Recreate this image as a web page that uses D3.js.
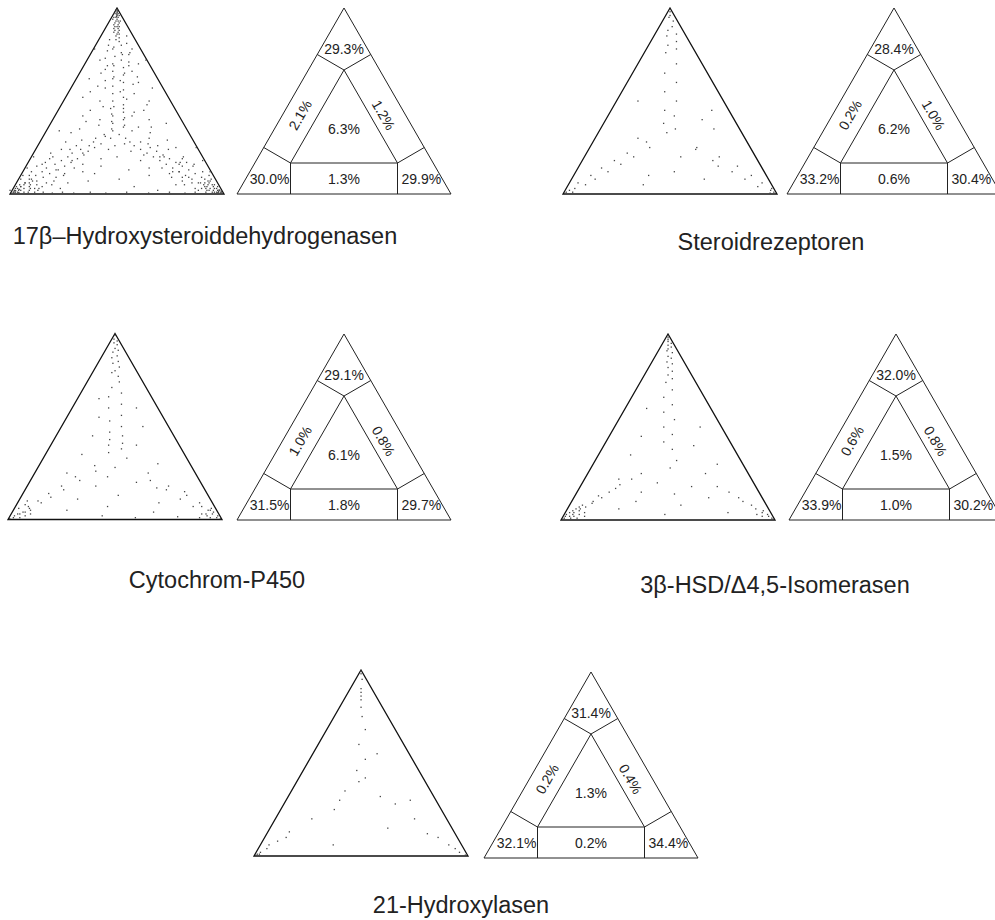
<!DOCTYPE html>
<html>
<head>
<meta charset="utf-8">
<script src="https://cdn.jsdelivr.net/npm/d3@7"></script>
<style>
  html, body { margin: 0; padding: 0; background: #fff; }
  svg { display: block; }
  text { font-family: "Liberation Sans", Arial, sans-serif; fill: #222; }
</style>
</head>
<body>
<svg id="chart" width="995" height="920"></svg>
<script>
// Likelihood mapping of quartets for five protein families.
// Each quartet is a barycentric point [top, left]; right = 1 - top - left.

const titles = [
  "17\u03B2\u2013Hydroxysteroiddehydrogenasen",
  "Steroidrezeptoren",
  "Cytochrom-P450",
  "3\u03B2-HSD/\u03944,5-Isomerasen",
  "21-Hydroxylasen"
];

// Region percentages: [top, bottom-left, bottom-right, left side, right side, bottom, centre]
const regionsHSD17   = [29.3, 30.0, 29.9, 2.1, 1.2, 1.3, 6.3];
const regionsSteroid = [28.4, 33.2, 30.4, 0.2, 1.0, 0.6, 6.2];
const regionsP450    = [29.1, 31.5, 29.7, 1.0, 0.8, 1.8, 6.1];
const regionsHSD3    = [32.0, 33.9, 30.2, 0.6, 0.8, 1.0, 1.5];
const regionsHyd21   = [31.4, 32.1, 34.4, 0.2, 0.4, 0.2, 1.3];

const pointsHSD17 = [
  // apex cluster
  [.99,.005],[.98,.01],[.97,.02],[.97,.01],[.96,.02],[.95,.03],[.95,.02],[.94,.03],[.93,.04],[.93,.03],
  [.92,.05],[.91,.04],[.9,.05],[.9,.06],[.89,.05],[.88,.07],[.87,.06],[.86,.07],[.85,.08],[.84,.07],
  [.83,.09],[.82,.08],[.98,.02],[.96,.01],[.94,.05],[.92,.03],[.91,.06],[.89,.07],[.88,.05],[.86,.06],
  [.99,.01],[.97,.03],[.95,.04],[.93,.02],[.9,.04],[.87,.08],[.985,.005],[.975,.012],[.965,.018],[.955,.025],
  // central column
  [.8,.08],[.78,.13],[.76,.1],[.74,.14],[.72,.12],[.7,.17],[.68,.13],[.66,.19],[.64,.15],[.62,.21],
  [.6,.17],[.58,.23],[.56,.19],[.54,.25],[.52,.21],[.5,.27],[.48,.23],[.46,.3],[.44,.25],[.42,.31],
  [.4,.27],[.38,.33],[.36,.29],[.34,.35],[.46,.24],[.43,.31],[.41,.26],[.39,.33],[.37,.28],[.35,.35],
  [.79,.12],[.75,.1],[.69,.17],[.61,.18],[.55,.21],[.47,.28],
  // towards bottom-left corner
  [.04,.93],[.05,.88],[.06,.9],[.07,.84],[.08,.86],[.09,.8],[.1,.83],[.11,.76],[.12,.79],[.13,.71],
  [.14,.76],[.15,.67],[.16,.71],[.17,.63],[.18,.67],[.19,.59],[.2,.63],[.21,.55],[.22,.6],[.23,.52],
  [.24,.55],[.25,.48],[.26,.5],[.27,.44],[.28,.47],[.3,.38],[.31,.4],[.13,.72],[.18,.62],[.22,.55],
  // towards bottom-right corner
  [.04,.07],[.05,.03],[.06,.09],[.07,.04],[.08,.11],[.09,.06],[.1,.13],[.11,.08],[.12,.15],[.13,.1],
  [.14,.17],[.15,.12],[.16,.19],[.17,.14],[.18,.21],[.19,.16],[.2,.23],[.21,.18],[.22,.25],[.23,.2],
  [.24,.27],[.25,.22],[.26,.29],[.28,.25],[.3,.31],[.12,.15],[.16,.13],[.2,.18],
  // bottom-left cluster
  [.005,.99],[.01,.98],[.02,.97],[.01,.96],[.03,.95],[.02,.94],[.04,.93],[.01,.93],[.03,.92],[.05,.91],
  [.02,.9],[.04,.89],[.06,.88],[.01,.88],[.03,.87],[.02,.86],[.05,.85],[.01,.84],[.04,.83],[.07,.86],
  [.02,.99],[.01,.97],[.03,.96],[.02,.95],[.06,.9],[.08,.87],[.03,.89],[.01,.91],[.04,.95],[.05,.93],
  [.005,.98],[.012,.975],[.018,.965],[.008,.955],[.025,.945],
  // bottom-right cluster
  [.005,.005],[.01,.01],[.02,.01],[.01,.03],[.03,.02],[.02,.04],[.04,.03],[.01,.05],[.05,.02],[.03,.05],
  [.02,.07],[.06,.04],[.04,.06],[.01,.08],[.07,.03],[.05,.07],[.03,.09],[.08,.05],[.02,.11],[.06,.08],
  [.01,.02],[.02,.02],[.03,.03],[.01,.04],[.04,.01],[.02,.06],[.06,.06],[.03,.07],[.08,.02],[.05,.05],
  [.005,.012],[.012,.006],[.015,.018],[.022,.012],[.008,.025],
  // along the edges
  [.005,.8],[.01,.75],[.005,.7],[.01,.62],[.005,.55],[.01,.45],[.005,.35],[.01,.25],[.005,.18],[.01,.13],
  [.1,.89],[.14,.85],[.2,.79],[.08,.91],[.12,.005],[.18,.01],[.25,.005],[.78,.215],[.72,.005],
  // scattered
  [.6,.1],[.55,.35],[.5,.1],[.45,.4],[.4,.15],[.35,.5],[.3,.2],[.28,.6],[.25,.1],[.2,.4],
  [.18,.3],[.15,.5],[.12,.6],[.1,.3],[.08,.45],[.06,.7],[.05,.2],[.65,.25],[.7,.05],[.72,.22],
  [.62,.32],[.52,.4],[.48,.12],[.42,.45],[.38,.08],[.33,.55],[.27,.33],[.22,.7],[.17,.12],[.13,.38],
  [.11,.55],[.09,.2],[.07,.6],[.04,.4],[.03,.75],[.02,.3],[.36,.22],[.44,.2],[.54,.15],[.58,.3],
  [.66,.1],[.69,.2],[.76,.06],[.32,.4],[.24,.64],[.2,.2],[.16,.58],[.14,.28],[.1,.7],[.09,.12],
  [.12,.18],[.19,.48],[.26,.38],[.29,.12],[.34,.6],[.39,.45],[.47,.33],[.51,.2],[.57,.05],[.63,.2],
  [.85,.03],[.83,.12],[.81,.05],[.8,.14],[.78,.04],[.77,.16],[.75,.07],[.73,.19],[.71,.09],[.69,.1],
  [.67,.22],[.65,.14],[.63,.09],[.61,.25],[.59,.13],[.57,.27],
  [.12,.84],[.1,.86],[.15,.8],[.17,.75],[.09,.74],[.06,.8],[.11,.69],[.2,.7],[.24,.6],[.07,.76],
  [.14,.63],[.03,.85],[.05,.78],[.16,.77],[.19,.72],[.26,.56],
  [.12,.04],[.1,.02],[.15,.07],[.17,.09],[.09,.15],[.06,.12],[.11,.2],[.2,.09],[.24,.14],[.07,.16],
  [.14,.22],[.03,.12],[.05,.16],[.16,.06],[.19,.1],[.26,.18],
  [.45,.15],[.4,.38],[.33,.18],[.3,.45],[.37,.4],[.28,.3],[.24,.42],[.21,.27],[.32,.33],[.42,.22],
  [.5,.33],[.36,.16],[.29,.52],[.23,.32],[.34,.26],[.27,.22]
];

const pointsSteroid = [
  [.98,.01],[.96,.02],[.95,.03],[.93,.02],[.9,.04],[.88,.07],[.86,.04],[.85,.09],[.82,.06],[.8,.11],
  [.78,.08],[.76,.14],
  [.7,.12],[.65,.2],[.6,.17],[.55,.25],[.5,.22],[.45,.3],[.42,.27],[.38,.34],[.35,.3],[.33,.35],
  [.03,.93],[.05,.87],[.06,.9],[.08,.81],[.1,.82],[.12,.73],[.14,.75],[.16,.65],[.18,.67],[.2,.57],
  [.22,.59],[.25,.47],[.28,.47],
  [.04,.07],[.06,.04],[.08,.11],[.1,.07],[.12,.15],[.15,.11],[.18,.21],[.2,.17],[.24,.26],
  [.01,.98],[.02,.96],[.01,.95],[.005,.99],[.01,.01],[.02,.02],[.005,.03],[.03,.01],
  [.4,.15],[.3,.5],[.2,.35],[.1,.55],[.15,.2],[.35,.12],[.25,.25],[.5,.4],[.08,.3],[.05,.6],
  [.45,.08],[.12,.42]
];

const pointsP450 = [
  [.99,.005],[.97,.02],[.96,.01],[.95,.03],[.94,.02],[.92,.04],[.91,.03],[.9,.06],[.88,.05],[.87,.08],
  [.85,.06],[.84,.09],[.82,.07],[.8,.1],[.79,.12],[.77,.1],
  [.74,.11],[.71,.16],[.68,.13],[.66,.2],[.62,.16],[.6,.23],[.56,.19],[.53,.26],[.5,.22],[.47,.29],
  [.45,.24],[.43,.31],[.41,.26],[.4,.33],[.38,.28],[.36,.35],
  [.03,.94],[.04,.91],[.06,.87],[.07,.87],[.09,.8],[.1,.81],[.12,.74],[.14,.74],[.16,.66],[.18,.66],
  [.21,.56],[.23,.57],[.26,.46],[.29,.45],
  [.03,.06],[.05,.03],[.07,.1],[.09,.06],[.11,.14],[.13,.1],[.16,.18],[.18,.16],[.21,.23],[.25,.22],
  [.005,.99],[.01,.97],[.02,.96],[.01,.94],[.03,.93],[.02,.91],[.04,.9],[.05,.87],[.06,.92],[.08,.88],
  [.03,.88],[.1,.86],
  [.005,.005],[.01,.02],[.02,.01],[.03,.03],[.01,.05],[.04,.02],[.02,.06],[.05,.04],[.06,.02],[.03,.08],
  [.07,.06],[.01,.1],
  [.55,.3],[.5,.12],[.45,.38],[.4,.2],[.35,.48],[.3,.15],[.28,.36],[.25,.6],[.2,.3],[.18,.5],
  [.15,.1],[.13,.42],[.11,.62],[.09,.25],[.07,.5],[.05,.7],[.04,.3],[.6,.1],[.65,.25],[.33,.28],
  [.23,.42],[.17,.22],[.02,.55],[.01,.4],[.015,.2]
];

const pointsHSD3 = [
  [.99,.005],[.98,.01],[.97,.015],[.96,.02],[.95,.01],[.94,.03],[.93,.02],[.92,.04],[.91,.05],[.9,.03],
  [.88,.06],[.87,.05],[.85,.08],[.84,.06],[.82,.09],[.8,.08],[.78,.11],[.76,.1],[.74,.14],
  [.7,.13],[.66,.19],[.62,.17],[.58,.23],[.54,.2],[.5,.27],[.46,.25],[.42,.31],[.38,.29],
  [.02,.95],[.03,.93],[.04,.92],[.05,.89],[.06,.88],[.07,.85],[.08,.86],[.09,.81],[.1,.8],[.12,.75],
  [.13,.76],[.15,.7],[.17,.66],[.19,.63],[.22,.56],[.25,.5],
  [.005,.99],[.01,.98],[.02,.97],[.01,.95],[.03,.96],[.02,.93],[.04,.94],[.01,.92],[.05,.92],[.03,.9],
  [.06,.9],[.02,.88],[.07,.88],[.04,.87],
  [.005,.005],[.01,.01],[.02,.02],[.03,.02],[.04,.04],[.05,.03],[.06,.06],[.08,.07],[.1,.1],[.12,.11],
  [.15,.14],[.18,.18],[.02,.05],[.03,.07],
  [.5,.1],[.45,.4],[.4,.18],[.35,.5],[.3,.12],[.28,.35],[.25,.2],[.2,.45],[.18,.3],[.15,.55],
  [.12,.25],[.1,.6],[.08,.4],[.06,.7],[.04,.2],[.03,.5],[.6,.3],[.32,.3],[.22,.62],[.14,.4]
];

const pointsHyd21 = [
  [.995,.003],[.98,.01],[.95,.02],[.9,.05],[.88,.06],[.86,.07],[.84,.08],[.8,.1],[.75,.12],
  [.68,.14],[.6,.21],[.52,.22],[.46,.29],[.42,.27],[.4,.31],
  [.005,.99],[.01,.98],[.01,.97],[.02,.96],[.04,.92],[.06,.9],[.08,.85],[.1,.8],[.13,.77],[.2,.63],
  [.25,.5],
  [.02,.03],[.04,.04],[.06,.06],[.1,.09],[.12,.13],[.005,.01],
  [.3,.45],[.32,.25],[.28,.2],[.35,.4],[.15,.3],[.2,.15],[.06,.6],[.3,.12],[.55,.15]
];

const panels = [
  { title: titles[0], points: pointsHSD17,   regions: regionsHSD17,   dot: [10, 194],  reg: [237, 194], label: [205, 244] },
  { title: titles[1], points: pointsSteroid, regions: regionsSteroid, dot: [563, 194], reg: [787, 194], label: [771, 250] },
  { title: titles[2], points: pointsP450,    regions: regionsP450,    dot: [8, 519.5], reg: [237, 520], label: [217, 588] },
  { title: titles[3], points: pointsHSD3,    regions: regionsHSD3,    dot: [561, 520], reg: [789, 520], label: [775, 593] },
  { title: titles[4], points: pointsHyd21,   regions: regionsHyd21,   dot: [254, 856], reg: [484, 858], label: [461, 913] }
];

const SIDE = 214, HEIGHT = 186;
const svg = d3.select("#chart");
const pct = v => d3.format(".1f")(v) + "%";

// Barycentric [top, left, right] -> screen coordinates through the panel scales
function project(x, y, b) {
  const [t, l, r] = b;
  return [x(r + t / 2), y(t)];
}

panels.forEach(p => {
  // ---- scatter triangle ----
  const x1 = d3.scaleLinear().domain([0, 1]).range([p.dot[0], p.dot[0] + SIDE]);
  const y1 = d3.scaleLinear().domain([0, 1]).range([p.dot[1], p.dot[1] - HEIGHT]);
  const g1 = svg.append("g");
  const corners1 = [[1, 0, 0], [0, 1, 0], [0, 0, 1]].map(b => project(x1, y1, b));
  g1.append("path")
    .attr("d", d3.line()(corners1) + "Z")
    .attr("fill", "none").attr("stroke", "#111").attr("stroke-width", 1.3);
  g1.selectAll("rect.q").data(p.points).join("rect")
    .attr("class", "q")
    .each(function (d) {
      const [px, py] = project(x1, y1, [d[0], d[1], 1 - d[0] - d[1]]);
      d3.select(this).attr("x", px - 0.6).attr("y", py - 0.6);
    })
    .attr("width", 1.3).attr("height", 1.3)
    .attr("fill", "#444");

  // ---- region triangle ----
  const x2 = d3.scaleLinear().domain([0, 1]).range([p.reg[0], p.reg[0] + SIDE]);
  const y2 = d3.scaleLinear().domain([0, 1]).range([p.reg[1], p.reg[1] - HEIGHT]);
  const g2 = svg.append("g");
  const P = b => project(x2, y2, b);
  const A = P([1, 0, 0]), B = P([0, 1, 0]), C = P([0, 0, 1]);
  const iA = P([2/3, 1/6, 1/6]), iB = P([1/6, 2/3, 1/6]), iC = P([1/6, 1/6, 2/3]);
  const segs = [
    [A, B, C, A],
    [iA, iB, iC, iA],
    [iA, P([3/4, 1/4, 0])], [iA, P([3/4, 0, 1/4])],
    [iB, P([1/4, 3/4, 0])], [iB, P([0, 3/4, 1/4])],
    [iC, P([1/4, 0, 3/4])], [iC, P([0, 1/4, 3/4])]
  ];
  g2.selectAll("path").data(segs).join("path")
    .attr("d", d => d3.line()(d))
    .attr("fill", "none").attr("stroke", "#222").attr("stroke-width", 1);

  const r = p.regions;
  const lbl = (px, py, val, rot, anchor) => {
    g2.append("text")
      .attr("text-anchor", anchor || "middle")
      .attr("dominant-baseline", "central")
      .attr("font-size", 14)
      .attr("transform", `translate(${px},${py}) rotate(${rot || 0})`)
      .text(pct(val));
  };
  const yb = y2(0.5 / 6);
  lbl(x2(0.5), y2(0.78), r[0]);
  lbl(x2(0.25) - 1, yb, r[1], 0, "end");
  lbl(x2(0.75) + 4, yb, r[2], 0, "start");
  lbl(x2(0.295), y2(0.425), r[3], -60);
  lbl(x2(0.685), y2(0.425), r[4], 60);
  lbl(x2(0.5), yb, r[5]);
  lbl(x2(0.5), y2(0.35), r[6]);

  // ---- panel title ----
  svg.append("text")
    .attr("x", p.label[0]).attr("y", p.label[1])
    .attr("text-anchor", "middle")
    .attr("font-size", 23.5)
    .text(p.title);
});
</script>
</body>
</html>
